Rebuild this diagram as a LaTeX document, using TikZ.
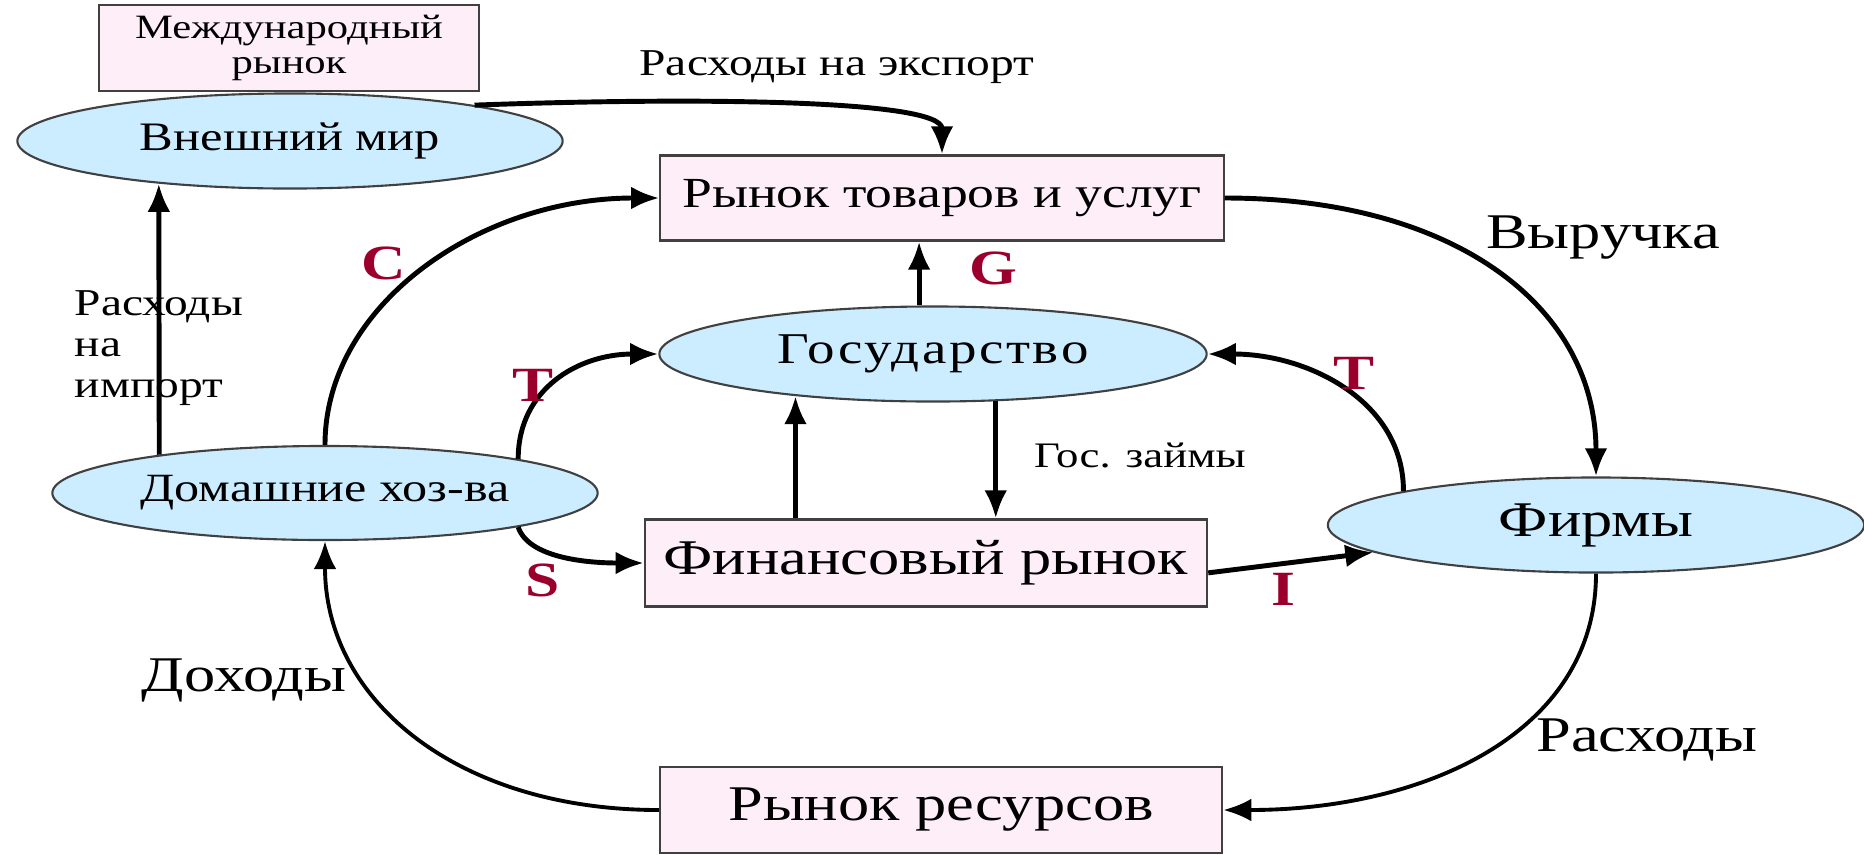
\documentclass[tikz,border=0pt]{standalone}
\usepackage{fontspec}
\setmainfont[FakeStretch=1.25]{Liberation Serif}
\usetikzlibrary{shapes.geometric, arrows.meta, positioning}
\definecolor{marketcolor}{RGB}{253, 238, 248}
\definecolor{agentcolor}{RGB}{204, 236, 255}
\definecolor{lettercolor}{RGB}{155, 0, 45}

\begin{document}
\begin{tikzpicture}[x=0.01cm, y=-0.01cm,
    market/.style={draw=black!75, fill=marketcolor, line width=0.6pt, inner sep=0pt},
    agent/.style={draw=black!75, fill=agentcolor, ellipse, line width=0.6pt, inner sep=0pt},
    flow/.style={-{Latex[length=8pt, width=6.5pt]}, line width=1.4pt},
    thinflow/.style={flow, line width=1.1pt},
    letter/.style={text=lettercolor, font=\fontsize{14}{16}\selectfont\bfseries},
    smalltext/.style={font=\fontsize{10.8}{12}\selectfont},
    bigtext/.style={font=\fontsize{14.2}{17}\selectfont}
]
\useasboundingbox (0,0) rectangle (1864,854);

% Markets
\node[market, minimum width=3.8cm, minimum height=0.86cm, align=center, font=\fontsize{9.7}{10}\selectfont] (intl) at (289,48) {Международный\\рынок};
\node[market, minimum width=5.63cm, minimum height=0.85cm, font=\fontsize{12.2}{14}\selectfont] (goods) at (942,198) {Рынок товаров и услуг};
\node[market, minimum width=5.62cm, minimum height=0.87cm, bigtext] (fin) at (926,563) {Финансовый рынок};
\node[market, minimum width=5.62cm, minimum height=0.86cm, bigtext] (res) at (941,810) {Рынок ресурсов};

% Agents
\node[agent, minimum width=5.45cm, minimum height=0.95cm, font=\fontsize{11.5}{13}\selectfont] (world) at (290,141) {\makebox[0pt]{Внешний мир}};
\node[agent, minimum width=5.45cm, minimum height=0.94cm, font=\fontsize{11.4}{13}\selectfont] (house) at (325,493) {\makebox[0pt]{Домашние хоз-ва}};
\node[agent, minimum width=5.47cm, minimum height=0.95cm, font=\fontsize{12.5}{14}\selectfont] (gov) at (933,354) {\makebox[0pt]{\addfontfeature{LetterSpace=6}Государство}};
\node[agent, minimum width=5.36cm, minimum height=0.95cm, bigtext] (firms) at (1596,525) {\makebox[0pt]{Фирмы}};

% Flows
\draw[flow] (house.167) -- (world.198);
\draw[flow] (world.11) .. controls +(220,-8) and +(0,-55) .. (goods.north);
\draw[flow] (house.north) .. controls +(0,-140) and +(-180,0) .. (goods.west);
\draw[flow] (gov.106) -- (gov.106 |- goods.south);
\draw[flow] (house.10) .. controls +(0,-70) and +(-80,0) .. (gov.west);
\draw[flow] (house.350) .. controls +(10,30) and +(-60,0) .. (fin.west);
\draw[flow] (gov.197 |- fin.north) -- (gov.197);
\draw[flow] (gov.323) -- (gov.323 |- fin.north);
\draw[flow] (fin.358) -- (firms.187);
\draw[flow] (goods.east) .. controls +(230,0) and +(0,-170) .. (firms.north);
\draw[flow] (firms.170) .. controls +(0,-90) and +(100,0) .. (gov.east);
\draw[thinflow] (firms.south) .. controls +(0,160) and +(200,0) .. (res.east);
\draw[thinflow] (res.west) .. controls +(-200,0) and +(0,160) .. (house.south);

% Labels
\node[smalltext] (exportlbl) at (837,67) {Расходы на экспорт};
\node[smalltext, align=left, anchor=west, inner sep=0pt, font=\fontsize{10.8}{11.7}\selectfont] (importlbl) at (74,348) {Расходы\\на\\импорт};
\node[smalltext, font=\fontsize{10.2}{12}\selectfont] (loanlbl) at (1140,455) {Гос. займы};
\node[bigtext] (revenuelbl) at (1603,238) {Выручка};
\node[bigtext] (incomelbl) at (244,680) {Доходы};
\node[bigtext] (costlbl) at (1647,740) {Расходы};
\node[letter] (cons) at (384,263) {C};
\node[letter] (spend) at (993,268) {G};
\node[letter] (taxh) at (533,385) {T};
\node[letter] (taxf) at (1354,373) {T};
\node[letter] (save) at (543,580) {S};
\node[letter] (inv) at (1283,589) {I};

\end{tikzpicture}
\end{document}
